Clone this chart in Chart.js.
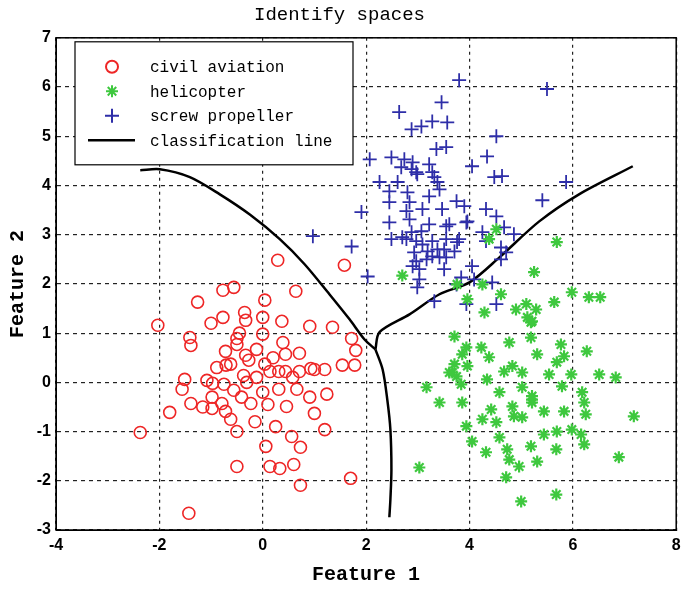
<!DOCTYPE html>
<html>
<head>
<meta charset="utf-8">
<script src="https://cdn.jsdelivr.net/npm/chart.js@4/dist/chart.umd.min.js"></script>
<style>
  html, body { margin: 0; padding: 0; background: #fff; }
  #wrap { width: 685px; height: 590px; }
</style>
</head>
<body>
<div id="wrap"><canvas id="chart" width="685" height="590"></canvas></div>
<script>
// values
const civilAviation = [
  [-2.37,-1.02],[-2.03,1.16],[-1.43,-2.66],[-1.26,1.63],[-0.77,1.87],[-0.56,1.93],[0.29,2.48],[0.64,1.85],
  [0.04,1.67],[1.58,2.38],[-1.41,0.91],[-1.39,0.75],[-1.51,0.06],[-1.56,-0.14],[-1.80,-0.61],[-1.39,-0.43],
  [-0.98,-0.30],[-0.98,-0.53],[-0.79,-0.43],[-0.72,-0.59],[-0.62,-0.75],[-0.50,-1.0],[-0.50,-1.71],[0.06,-1.30],
  [0.14,-1.71],[0.33,-1.75],[0.60,-1.67],[0.73,-2.09],[1.70,-1.95],[-0.77,1.32],[-0.35,1.42],[-0.33,1.26],
  [0.0,1.32],[0.37,1.24],[0.91,1.14],[1.35,1.12],[1.72,0.89],[1.80,0.65],[1.78,0.35],[1.54,0.35],
  [1.20,0.26],[0.93,0.28],[0.0,0.98],[0.39,0.81],[0.71,0.59],[0.44,0.57],[-0.12,0.67],[-0.27,0.45],
  [-0.50,0.89],[-0.72,0.63],[-0.37,0.14],[-0.31,0.0],[-0.12,0.10],[0.04,0.37],[0.14,0.22],[0.31,0.22],
  [0.44,0.22],[0.58,0.10],[0.71,0.22],[1.0,0.26],[-0.89,0.30],[-0.71,0.35],[-0.62,0.37],[-0.50,0.77],
  [-1.08,0.04],[-0.75,-0.04],[-0.56,-0.16],[-0.97,-0.02],[0.0,-0.20],[0.10,-0.45],[0.31,-0.14],[0.66,-0.14],
  [0.91,-0.30],[1.24,-0.24],[0.46,-0.49],[1.0,-0.63],[1.20,-0.96],[0.56,-1.10],[0.73,-1.32],[-0.41,-0.30],
  [-0.23,-0.43],[-0.15,-0.80],[0.25,-0.90],[-1.16,-0.50],[0.20,0.50],[-0.45,1.0],[-1.00,1.20],[-0.33,0.55]
];
const helicopter = [
  [2.70,2.17],[3.76,1.99],[3.96,1.69],[4.25,1.99],[4.61,1.79],[4.29,1.42],[4.90,1.48],[5.10,1.59],
  [5.29,1.48],[5.12,1.32],[5.19,1.22],[3.71,0.93],[3.94,0.71],[4.23,0.71],[4.77,0.81],[5.19,0.91],
  [4.38,0.51],[3.86,0.57],[3.61,0.20],[4.83,0.33],[4.52,3.11],[4.38,2.91],[5.69,2.85],[5.25,2.24],
  [5.98,1.83],[6.31,1.73],[6.53,1.73],[5.64,1.63],[5.21,1.24],[5.77,0.77],[6.27,0.63],[5.83,0.53],
  [5.31,0.57],[5.69,0.41],[5.54,0.16],[6.51,0.16],[6.83,0.10],[5.79,-0.08],[5.97,0.16],[5.21,-0.28],
  [5.21,-0.41],[5.44,-0.59],[5.83,-0.59],[6.18,-0.20],[6.22,-0.41],[6.25,-0.65],[7.18,-0.69],[5.44,-1.06],
  [5.69,-1.00],[5.98,-0.96],[6.16,-1.06],[6.22,-1.26],[5.68,-1.36],[5.31,-1.61],[6.89,-1.52],[5.68,-2.28],
  [5.19,-1.30],[3.17,-0.10],[3.42,-0.41],[3.86,-0.41],[3.67,0.20],[3.84,-0.04],[3.96,0.33],[3.94,-0.89],
  [4.05,-1.20],[4.32,-1.42],[3.03,-1.73],[4.42,-0.55],[4.25,-0.75],[4.52,-0.81],[4.58,-1.12],[4.73,-1.36],
  [4.77,-1.57],[4.96,-1.71],[4.71,-1.93],[5.00,-2.42],[4.34,0.06],[4.58,-0.20],[4.83,-0.49],[4.86,-0.69],
  [5.02,-0.71],[5.21,-0.35],[5.02,-0.10],[5.02,0.20],[3.71,0.37],[3.75,0.12],[4.67,0.22]
];
const screwPropeller = [
  [3.80,6.14],[3.46,5.69],[2.64,5.49],[3.28,5.30],[3.57,5.28],[3.07,5.20],[2.88,5.14],[4.52,5.00],
  [3.36,4.74],[3.55,4.78],[4.34,4.59],[2.07,4.53],[2.49,4.57],[2.74,4.53],[2.90,4.47],[2.68,4.37],
  [2.88,4.33],[2.99,4.23],[3.22,4.43],[3.28,4.27],[4.05,4.39],[2.26,4.07],[2.61,4.07],[3.32,4.17],
  [3.38,4.07],[4.48,4.17],[4.63,4.19],[5.50,5.96],[5.87,4.07],[5.41,3.70],[2.45,3.88],[2.80,3.86],
  [2.45,3.66],[1.91,3.46],[2.84,3.66],[3.22,3.78],[3.42,3.92],[2.97,4.27],[3.47,3.52],[3.09,3.52],
  [2.78,3.48],[3.75,3.68],[3.90,3.58],[3.96,3.27],[3.61,3.21],[4.32,3.52],[4.52,3.37],[4.67,3.15],
  [2.84,3.31],[2.45,3.25],[3.22,3.21],[2.88,3.05],[3.07,3.07],[2.49,2.91],[2.78,2.91],[2.97,2.87],
  [3.28,2.87],[3.55,2.91],[3.80,2.91],[4.25,3.05],[4.32,2.87],[4.61,2.74],[1.72,2.76],[2.93,2.64],
  [3.19,2.66],[3.51,2.70],[3.71,2.66],[3.42,2.54],[3.17,2.50],[2.90,2.36],[3.03,2.30],[3.51,2.30],
  [4.05,2.36],[4.61,2.50],[2.03,2.15],[3.03,2.09],[3.84,2.13],[3.75,1.99],[4.09,2.09],[4.44,2.03],
  [2.99,1.93],[3.32,1.65],[3.94,1.59],[3.55,3.17],[3.94,3.25],[2.70,2.95],[4.86,3.01],[3.09,2.80],
  [3.38,2.70],[3.76,2.85],[2.97,2.46],[3.28,2.56],[3.55,2.54],[4.71,2.64],[4.52,1.59],[0.97,2.97]
];
// classification line, three branches meeting near (2.18, 0.67)
const lineArc = [
  [-2.37,4.31],[-1.99,4.33],[-1.41,4.17],[-0.83,3.82],[-0.25,3.41],[0.33,2.91],[0.81,2.40],
  [1.29,1.79],[1.68,1.28],[1.97,0.87],[2.18,0.67]
];
const lineUp = [
  [2.18,0.67],[2.26,1.02],[2.84,1.38],[3.42,1.79],[4.00,2.03],[4.58,2.54],[5.35,3.27],[6.12,3.82],[7.16,4.39]
];
const lineDown = [
  [2.18,0.67],[2.32,0.26],[2.41,-0.35],[2.47,-0.96],[2.49,-1.77],[2.47,-2.38],[2.45,-2.74]
];
const xTicks = [-4, -2, 0, 2, 4, 6, 8];
const yTicks = [-3, -2, -1, 0, 1, 2, 3, 4, 5, 6, 7];

const RED = '#ee2626';
const GREEN = '#3ec83e';
const BLUE = '#2e2ea8';

const toPts = arr => arr.map(p => ({ x: p[0], y: p[1] }));

const legendItems = [
  { text: 'civil aviation', style: 'circle', color: RED, radius: 6 },
  { text: 'helicopter', style: 'star', color: GREEN, radius: 6 },
  { text: 'screw propeller', style: 'cross', color: BLUE, radius: 7 },
  { text: 'classification line', style: 'line', color: '#000' }
];

const boxPlugin = {
  id: 'boxAndLegend',
  afterDraw(chart) {
    const { ctx, chartArea: a } = chart;
    ctx.save();
    ctx.strokeStyle = '#000';
    ctx.lineWidth = 1.5;
    ctx.strokeRect(a.left, a.top, a.right - a.left, a.bottom - a.top);

    // legend box
    const lx = a.left + 19, ly = a.top + 4, lw = 278, lh = 123;
    ctx.fillStyle = '#fff';
    ctx.fillRect(lx, ly, lw, lh);
    ctx.lineWidth = 1.2;
    ctx.strokeRect(lx, ly, lw, lh);
    ctx.font = '16px "Liberation Mono", monospace';
    ctx.textBaseline = 'middle';
    legendItems.forEach((item, i) => {
      const y = ly + 25 + i * 24.5;
      const mx = lx + 37;
      ctx.strokeStyle = item.color;
      ctx.fillStyle = 'rgba(0,0,0,0)';
      if (item.style === 'line') {
        ctx.lineWidth = 2.5;
        ctx.beginPath();
        ctx.moveTo(lx + 13, y);
        ctx.lineTo(lx + 60, y);
        ctx.stroke();
      } else {
        ctx.lineWidth = 2;
        Chart.helpers.drawPoint(ctx, { pointStyle: item.style, radius: item.radius, rotation: 0, borderWidth: 2 }, mx, y);
      }
      ctx.fillStyle = '#000';
      ctx.fillText(item.text, lx + 75, y + 1);
    });
    ctx.restore();
  }
};

const lineStyle = {
  type: 'line',
  borderColor: '#000',
  borderWidth: 2.5,
  pointRadius: 0,
  fill: false,
  tension: 0.3
};

const tickFont = { family: '"Liberation Sans Narrow", "Liberation Sans", sans-serif', size: 16, weight: 'bold' };
const titleFont = { family: '"Liberation Mono", monospace', size: 20, weight: 'bold', lineHeight: 1.2 };

new Chart(document.getElementById('chart'), {
  type: 'scatter',
  data: {
    datasets: [
      { label: 'civil aviation', data: toPts(civilAviation), pointStyle: 'circle', pointRadius: 6,
        pointBorderColor: RED, pointBackgroundColor: 'rgba(0,0,0,0)', pointBorderWidth: 1.6 },
      { label: 'helicopter', data: toPts(helicopter), pointStyle: 'star', pointRadius: 6,
        pointBorderColor: GREEN, pointBackgroundColor: GREEN, pointBorderWidth: 2.2 },
      { label: 'screw propeller', data: toPts(screwPropeller), pointStyle: 'cross', pointRadius: 7,
        pointBorderColor: BLUE, pointBorderWidth: 1.8 },
      Object.assign({ label: 'classification line', data: toPts(lineArc) }, lineStyle),
      Object.assign({ label: 'classification line b', data: toPts(lineUp) }, lineStyle),
      Object.assign({ label: 'classification line c', data: toPts(lineDown) }, lineStyle)
    ]
  },
  options: {
    responsive: false,
    animation: false,
    layout: { padding: { left: 0, right: 6, top: 0, bottom: 0 } },
    plugins: {
      legend: { display: false },
      tooltip: { enabled: false },
      title: {
        display: true,
        text: 'Identify spaces',
        color: '#000',
        font: { family: '"Liberation Mono", monospace', size: 19, weight: 'normal', lineHeight: 1.2 },
        padding: { top: 4, bottom: 11 }
      }
    },
    scales: {
      x: {
        type: 'linear',
        min: -4, max: 8,
        afterBuildTicks: s => { s.ticks = xTicks.map(v => ({ value: v })); },
        afterFit: s => { s.height = 60; s.paddingRight = 0; s.paddingLeft = 0; },
        grid: { color: '#222', lineWidth: 1.2, drawTicks: false },
        border: { display: true, color: '#000', dash: [3, 4] },
        ticks: { color: '#000', padding: 6, font: tickFont },
        title: { display: true, text: 'Feature 1', color: '#000', padding: { top: 0, bottom: 3 }, font: titleFont }
      },
      y: {
        type: 'linear',
        min: -3, max: 7,
        afterBuildTicks: s => { s.ticks = yTicks.map(v => ({ value: v })); },
        afterFit: s => { s.width = 56; },
        grid: { color: '#222', lineWidth: 1.2, drawTicks: false },
        border: { display: true, color: '#000', dash: [4, 4] },
        ticks: { color: '#000', padding: 5, font: tickFont },
        title: { display: true, text: 'Feature 2', color: '#000', padding: { top: 6, bottom: 0 }, font: titleFont }
      }
    }
  },
  plugins: [boxPlugin]
});
</script>
</body>
</html>
